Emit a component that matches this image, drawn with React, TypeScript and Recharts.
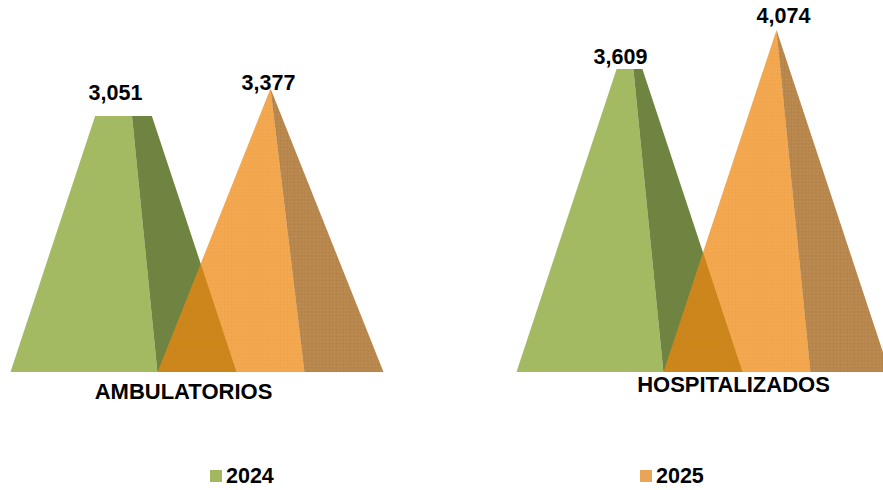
import React from 'react';
import { BarChart, Bar, XAxis, YAxis, Legend, LabelList } from 'recharts';

const categories = ['AMBULATORIOS', 'HOSPITALIZADOS'];
const values2024 = [3051, 3609];
const values2025 = [3377, 4074];
const seriesNames = ['2024', '2025'];
const axisMax = 4074;

const rows = categories.map((name, i) => ({
  name,
  y2024: values2024[i],
  y2025: values2025[i],
}));

const FONT = '"Liberation Sans", Arial, sans-serif';
const SPLIT = 0.65;

// Small hand nudges so that the texts sit where the reference has them.
const tickNudge: Record<string, [number, number]> = {
  AMBULATORIOS: [-13, 6],
  HOSPITALIZADOS: [31, -1],
};
const labelNudge2024: [number, number][] = [[-8, 0], [-9, 11]];
const labelNudge2025: [number, number][] = [[-2, 17], [7, 9]];
const legendLeft = [210, 640];

function polygon(pts: number[][]) {
  return pts.map((p) => p.join(',')).join(' ');
}

const GreenPyramid = (props: any) => {
  const { x, y, width, height, value } = props;
  const v = Array.isArray(value) ? value[1] : value;
  const bottom = y + height;
  const apexX = x + width / 2;
  const t = v / axisMax;
  const sx = x + width * SPLIT;
  const at = (px: number) => px + (apexX - px) * t;
  return (
    <g>
      <polygon points={polygon([[x, bottom], [sx, bottom], [at(sx), y], [at(x), y]])} fill="#A4BA62" />
      <polygon points={polygon([[sx, bottom], [x + width, bottom], [at(x + width), y], [at(sx), y]])} fill="#6F8440" />
    </g>
  );
};

const OrangePyramid = (props: any) => {
  const { x, y, width, height } = props;
  const bottom = y + height;
  const apexX = x + width / 2;
  const sx = x + width * SPLIT;
  const front = polygon([[x, bottom], [sx, bottom], [apexX, y]]);
  const side = polygon([[sx, bottom], [x + width, bottom], [apexX, y]]);
  return (
    <g>
      <polygon points={front} fill="#F0870C" fillOpacity={0.72} />
      <polygon points={side} fill="#A15D0C" fillOpacity={0.72} />
      <polygon points={front} fill="url(#gridLight)" />
      <polygon points={side} fill="url(#gridDark)" />
    </g>
  );
};

const ValueLabel = (nudges: [number, number][]) => (props: any) => {
  const { x, y, width, value, index } = props;
  return (
    <text
      x={x + width / 2 + nudges[index][0]}
      y={y - 16 + nudges[index][1]}
      textAnchor="middle"
      fontFamily={FONT}
      fontWeight="bold"
      fontSize={21.5}
      fill="#000"
    >
      {Number(value).toLocaleString('en-US')}
    </text>
  );
};

const CategoryTick = (props: any) => {
  const { x, y, payload } = props;
  const [dx, dy] = tickNudge[payload.value];
  return (
    <text
      x={x + dx}
      y={y + dy + 13}
      textAnchor="middle"
      fontFamily={FONT}
      fontWeight="bold"
      fontSize={22}
      fill="#000"
    >
      {payload.value}
    </text>
  );
};

const LegendContent = (props: any) => (
  <div style={{ position: 'relative', width: 883, height: 24 }}>
    {(props.payload || []).map((item: any, i: number) => (
      <div
        key={item.value}
        style={{
          position: 'absolute',
          left: legendLeft[i],
          top: 0,
          display: 'flex',
          alignItems: 'center',
          fontFamily: FONT,
          fontWeight: 'bold',
          fontSize: 21.5,
          color: '#000',
          lineHeight: '24px',
        }}
      >
        <span style={{ width: 11.5, height: 11.5, background: item.color, marginRight: 4.5 }} />
        {item.value}
      </div>
    ))}
  </div>
);

export default function App() {
  return (
    <div style={{ position: 'absolute', left: 0, top: 0, width: 883, height: 490, overflow: 'hidden', background: '#fff' }}>
      <BarChart
        width={883}
        height={490}
        data={rows}
        barSize={226}
        barGap={-79}
        margin={{ top: 30, right: -72.5, bottom: 88, left: -56.5 }}
      >
        <defs>
          <pattern id="gridLight" width="3.5" height="3.5" patternUnits="userSpaceOnUse">
            <path d="M0 0H3.5M0 0V3.5" stroke="#B8731A" strokeOpacity={0.1} strokeWidth={1} fill="none" />
          </pattern>
          <pattern id="gridDark" width="3.5" height="3.5" patternUnits="userSpaceOnUse">
            <path d="M0 0H3.5M0 0V3.5" stroke="#7A4E14" strokeOpacity={0.18} strokeWidth={1} fill="none" />
          </pattern>
        </defs>
        <XAxis
          dataKey="name"
          height={30}
          axisLine={false}
          tickLine={false}
          interval={0}
          tick={<CategoryTick />}
        />
        <YAxis hide domain={[0, axisMax]} />
        <Legend
          layout="horizontal"
          verticalAlign="middle"
          wrapperStyle={{ position: 'absolute', left: 0, top: 464, width: 883, height: 24 }}
          content={<LegendContent />}
        />
        <Bar dataKey="y2024" name={seriesNames[0]} fill="#A3B660" isAnimationActive={false} shape={<GreenPyramid />}>
          <LabelList dataKey="y2024" content={ValueLabel(labelNudge2024) as any} />
        </Bar>
        <Bar dataKey="y2025" name={seriesNames[1]} fill="#E8A558" isAnimationActive={false} shape={<OrangePyramid />}>
          <LabelList dataKey="y2025" content={ValueLabel(labelNudge2025) as any} />
        </Bar>
      </BarChart>
    </div>
  );
}
